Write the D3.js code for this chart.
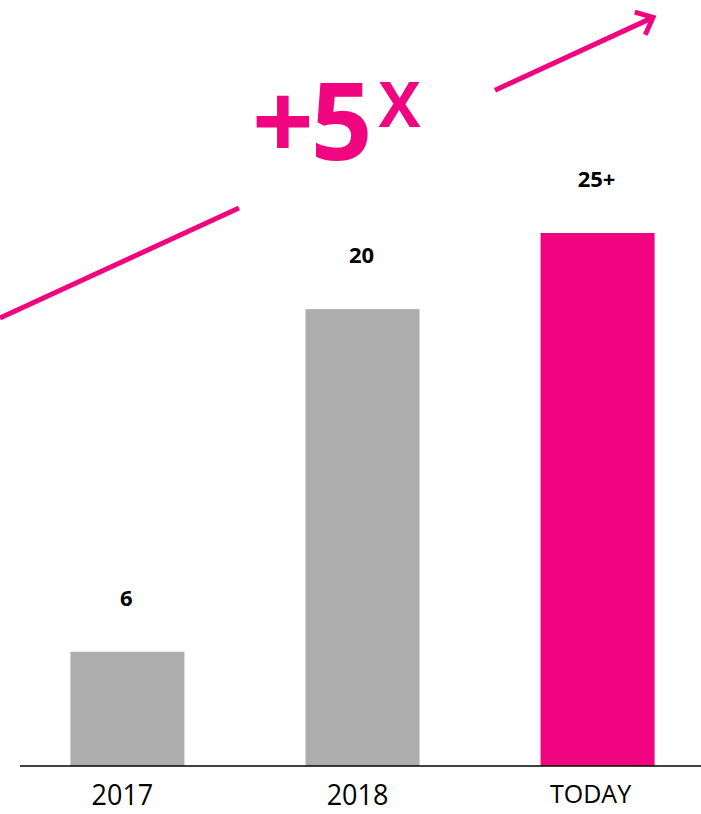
<!DOCTYPE html>
<html>
<head>
<meta charset="utf-8">
<script src="https://cdn.jsdelivr.net/npm/d3@7"></script>
<style>
  body { margin: 0; background: #fff; }
  svg { display: block; font-family: "Open Sans", "Noto Sans", sans-serif; }
</style>
</head>
<body>
<div id="chart"></div>
<script>
// values
const categories = ["2017", "2018", "TODAY"];
const barHeights = [6, 24, 28];          // drawn bar length (units)
const valueLabels = ["6", "20", "25+"];  // printed labels
const barColors = ["#adadad", "#adadad", "#f0047f"];
const growthText = "+5";
const growthSup = "X";

const width = 701, height = 814;
const pink = "#f0047f";
const baseY = 766;

const svg = d3.select("#chart").append("svg")
    .attr("width", width)
    .attr("height", height);

const x = d3.scaleBand()
    .domain(categories)
    .range([10, 715])
    .paddingInner(0.515)
    .paddingOuter(0.257);

const y = d3.scaleLinear()
    .domain([0, 28])
    .range([baseY, 233]);

// bars
svg.append("g")
    .selectAll("rect")
    .data(categories)
    .enter()
    .append("rect")
    .attr("x", d => x(d))
    .attr("width", x.bandwidth())
    .attr("y", (d, i) => y(barHeights[i]))
    .attr("height", (d, i) => baseY - y(barHeights[i]))
    .attr("fill", (d, i) => barColors[i]);

// value labels
svg.append("g")
    .selectAll("text")
    .data(categories)
    .enter()
    .append("text")
    .attr("x", d => x(d) + x.bandwidth() / 2 - 1)
    .attr("y", (d, i) => y(barHeights[i]) - 46)
    .attr("text-anchor", "middle")
    .attr("font-size", 22)
    .attr("font-weight", "bold")
    .attr("fill", "#000")
    .text((d, i) => valueLabels[i]);

// baseline
svg.append("line")
    .attr("x1", 20).attr("x2", width)
    .attr("y1", baseY).attr("y2", baseY)
    .attr("stroke", "#000")
    .attr("stroke-width", 1.5);

// category axis
const axis = svg.append("g")
    .attr("transform", "translate(0," + baseY + ")")
    .call(d3.axisBottom(x).tickSize(0).tickPadding(0));
axis.select(".domain").remove();
axis.selectAll("text")
    .attr("dx", d => d === "TODAY" ? -7 : -5)
    .attr("y", d => d === "TODAY" ? 37 : 39)
    .attr("dy", 0)
    .attr("fill", "#000")
    .attr("font-family", "'Open Sans', sans-serif")
    .attr("font-size", d => d === "TODAY" ? 25 : 29)
    .each(function(d) {
        // the year labels are narrow in the source
        if (d !== "TODAY") {
            const w = this.getComputedTextLength();
            d3.select(this)
                .attr("textLength", w * 0.93)
                .attr("lengthAdjust", "spacingAndGlyphs");
        }
    });

// growth arrow, one line broken where the text sits
const slope = (208 - 318) / 239;
const lineY = px => 318 + slope * px;
svg.append("line")
    .attr("x1", 0).attr("y1", lineY(0))
    .attr("x2", 239).attr("y2", lineY(239))
    .attr("stroke", pink).attr("stroke-width", 5);
svg.append("line")
    .attr("x1", 495).attr("y1", lineY(495))
    .attr("x2", 651).attr("y2", lineY(651))
    .attr("stroke", pink).attr("stroke-width", 5);
// arrow head
const ang = Math.atan(slope);
const tipX = 653, tipY = lineY(653);
const arm = 19;
const head = [ang + Math.PI - 0.72, ang + Math.PI + 0.72].map(a =>
    [tipX + arm * Math.cos(a), tipY + arm * Math.sin(a)]);
svg.append("path")
    .attr("d", "M" + head[0] + "L" + [tipX, tipY] + "L" + head[1])
    .attr("fill", "none")
    .attr("stroke", pink)
    .attr("stroke-width", 5)
    .attr("stroke-linejoin", "miter");

// +5x
const big = svg.append("text")
    .attr("x", 252)
    .attr("y", 160)
    .attr("fill", pink)
    .attr("font-weight", "bold")
    .attr("font-size", 108)
    .attr("letter-spacing", -3);
big.append("tspan").text(growthText);
big.append("tspan")
    .attr("font-size", 63)
    .attr("dx", 9)
    .attr("dy", -33)
    .text(growthSup);
</script>
</body>
</html>
